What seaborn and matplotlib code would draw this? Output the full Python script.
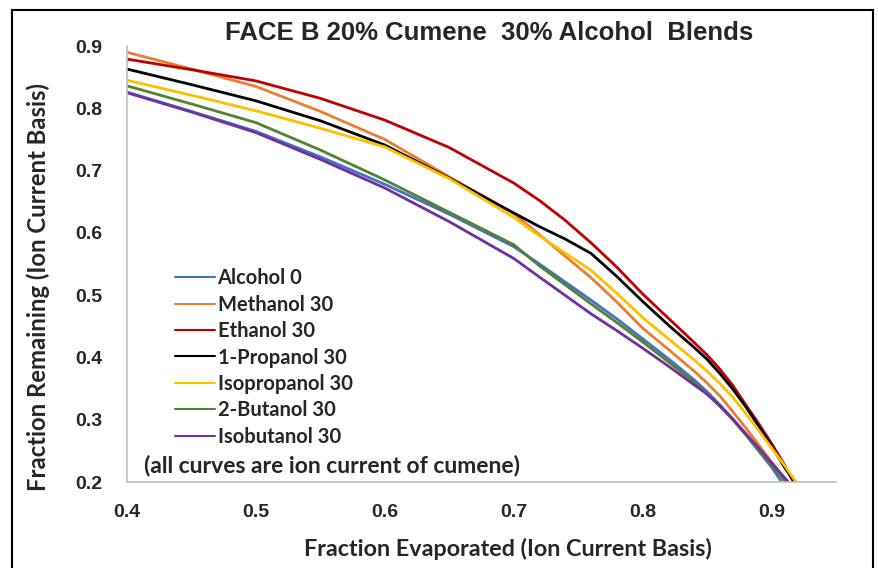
import numpy as np
import pandas as pd
import matplotlib.pyplot as plt
import matplotlib.patches as mpatches
import seaborn as sns

# series (fraction evaporated, fraction remaining)
names = ['Alcohol 0', 'Methanol 30', 'Ethanol 30', '1-Propanol 30',
         'Isopropanol 30', '2-Butanol 30', 'Isobutanol 30']
colors = ['#4472C4', '#ED7D31', '#C00000', '#000000', '#FFC000', '#548235', '#7030A0']

x_alc0 = [0.40, 0.45, 0.50, 0.55, 0.60, 0.65, 0.70, 0.72, 0.76, 0.78, 0.80, 0.82, 0.84, 0.85,
          0.86, 0.87, 0.88, 0.89, 0.90, 0.908]
y_alc0 = [0.826, 0.795, 0.763, 0.722, 0.678, 0.630, 0.578, 0.550, 0.492, 0.462, 0.430, 0.398,
          0.364, 0.345, 0.324, 0.301, 0.276, 0.250, 0.224, 0.200]

x_meth = [0.40, 0.45, 0.50, 0.55, 0.60, 0.65, 0.70, 0.72, 0.76, 0.78, 0.80, 0.82, 0.84, 0.85,
          0.86, 0.87, 0.88, 0.89, 0.90, 0.912]
y_meth = [0.890, 0.863, 0.835, 0.795, 0.750, 0.690, 0.631, 0.597, 0.528, 0.489, 0.447, 0.413,
          0.378, 0.359, 0.338, 0.313, 0.287, 0.260, 0.232, 0.200]

x_eth = [0.40, 0.45, 0.50, 0.55, 0.60, 0.65, 0.70, 0.72, 0.74, 0.76, 0.78, 0.80, 0.82, 0.84,
         0.85, 0.86, 0.87, 0.88, 0.89, 0.90, 0.91, 0.917]
y_eth = [0.879, 0.862, 0.844, 0.816, 0.781, 0.737, 0.680, 0.652, 0.620, 0.584, 0.545, 0.502,
         0.463, 0.424, 0.404, 0.381, 0.355, 0.324, 0.294, 0.262, 0.228, 0.200]

x_prop = [0.40, 0.45, 0.50, 0.55, 0.60, 0.65, 0.70, 0.72, 0.74, 0.76, 0.78, 0.80, 0.82, 0.84,
          0.85, 0.86, 0.87, 0.88, 0.89, 0.90, 0.91, 0.918]
y_prop = [0.863, 0.838, 0.812, 0.780, 0.741, 0.688, 0.632, 0.610, 0.590, 0.567, 0.530, 0.490,
          0.452, 0.416, 0.397, 0.374, 0.349, 0.321, 0.290, 0.258, 0.224, 0.200]

x_iprop = [0.40, 0.45, 0.50, 0.55, 0.60, 0.65, 0.70, 0.72, 0.76, 0.78, 0.80, 0.82, 0.84, 0.85,
           0.86, 0.87, 0.88, 0.89, 0.90, 0.91, 0.919]
y_iprop = [0.845, 0.821, 0.796, 0.768, 0.738, 0.687, 0.625, 0.595, 0.540, 0.503, 0.464, 0.430,
           0.396, 0.378, 0.358, 0.336, 0.310, 0.283, 0.255, 0.227, 0.200]

x_but2 = [0.40, 0.45, 0.50, 0.55, 0.60, 0.65, 0.70, 0.72, 0.76, 0.78, 0.80, 0.82, 0.84, 0.85,
          0.86, 0.87, 0.88, 0.89, 0.90, 0.911]
y_but2 = [0.836, 0.807, 0.777, 0.733, 0.685, 0.633, 0.581, 0.547, 0.486, 0.456, 0.425, 0.393,
          0.360, 0.342, 0.322, 0.300, 0.276, 0.252, 0.227, 0.200]

x_ibut = [0.40, 0.45, 0.50, 0.55, 0.60, 0.65, 0.70, 0.72, 0.76, 0.78, 0.80, 0.82, 0.84, 0.85,
          0.86, 0.87, 0.88, 0.89, 0.90, 0.913]
y_ibut = [0.825, 0.794, 0.761, 0.718, 0.672, 0.618, 0.559, 0.529, 0.470, 0.443, 0.415, 0.386,
          0.356, 0.341, 0.322, 0.301, 0.278, 0.255, 0.231, 0.200]

xs = [x_alc0, x_meth, x_eth, x_prop, x_iprop, x_but2, x_ibut]
ys = [y_alc0, y_meth, y_eth, y_prop, y_iprop, y_but2, y_ibut]

frames = []
for name, x, y in zip(names, xs, ys):
    frames.append(pd.DataFrame({'evap': x, 'remain': y, 'blend': name}))
df = pd.concat(frames, ignore_index=True)

sns.set_style('white')
plt.rcParams['font.family'] = ['Liberation Sans', 'DejaVu Sans']

fig = plt.figure(figsize=(8.79, 5.68), dpi=100)
ax = fig.add_axes([0.1445, 0.1514, 0.8065, 0.7676])

sns.lineplot(data=df, x='evap', y='remain', hue='blend', hue_order=names,
             palette=colors, sort=False, estimator=None, linewidth=2, ax=ax)

ax.set_xlim(0.4, 0.95)
ax.set_ylim(0.2, 0.9)
ax.set_xticks([0.4, 0.5, 0.6, 0.7, 0.8, 0.9])
ax.set_yticks([0.2, 0.3, 0.4, 0.5, 0.6, 0.7, 0.8, 0.9])
ax.set_xticklabels(['0.4', '0.5', '0.6', '0.7', '0.8', '0.9'])
ax.set_yticklabels(['0.2', '0.3', '0.4', '0.5', '0.6', '0.7', '0.8', '0.9'])
for lab in ax.get_xticklabels() + ax.get_yticklabels():
    lab.set_fontweight('bold')
    lab.set_fontsize(14)
    lab.set_family(['Liberation Sans Narrow', 'Liberation Sans'])
ax.tick_params(axis='x', length=0, pad=16)
ax.tick_params(axis='y', length=0, pad=18)

for side in ['top', 'right']:
    ax.spines[side].set_visible(False)
for side in ['left', 'bottom']:
    ax.spines[side].set_color('#BFBFBF')
    ax.spines[side].set_linewidth(1.2)

ax.set_xlabel('Fraction Evaporated (Ion Current Basis)', fontsize=16.8,
              fontweight='bold', family=['Lato', 'DejaVu Sans'])
ax.set_ylabel('Fraction Remaining (Ion Current Basis)', fontsize=17.2,
              fontweight='bold', family=['Lato', 'DejaVu Sans'])
ax.xaxis.set_label_coords(0.537, -0.128)
ax.yaxis.set_label_coords(-0.108, 0.447)
fig.text(0.556, 0.942, 'FACE B 20% Cumene  30% Alcohol  Blends', ha='center',
         va='center', fontsize=18.5, fontweight='bold')

leg = ax.legend(loc='upper left', bbox_to_anchor=(0.042, 0.532), frameon=False,
                handlelength=2.0, handletextpad=0.12, labelspacing=0.32,
                prop={'family': ['Lato', 'DejaVu Sans'], 'weight': 'bold', 'size': 14.5})
for line in leg.get_lines():
    line.set_linewidth(1.5)

ax.text(0.024, 0.038, '(all curves are ion current of cumene)', transform=ax.transAxes,
        fontsize=16.5, fontweight='bold', family=['Lato', 'DejaVu Sans'], va='center')

# outer border of the chart
fig.patches.append(mpatches.Rectangle((12 / 879, -0.02), (873 - 12) / 879, 1.02 - 10 / 568,
                                      transform=fig.transFigure, fill=False,
                                      edgecolor='black', linewidth=1.5))

fig.savefig('out.png', dpi=100)
